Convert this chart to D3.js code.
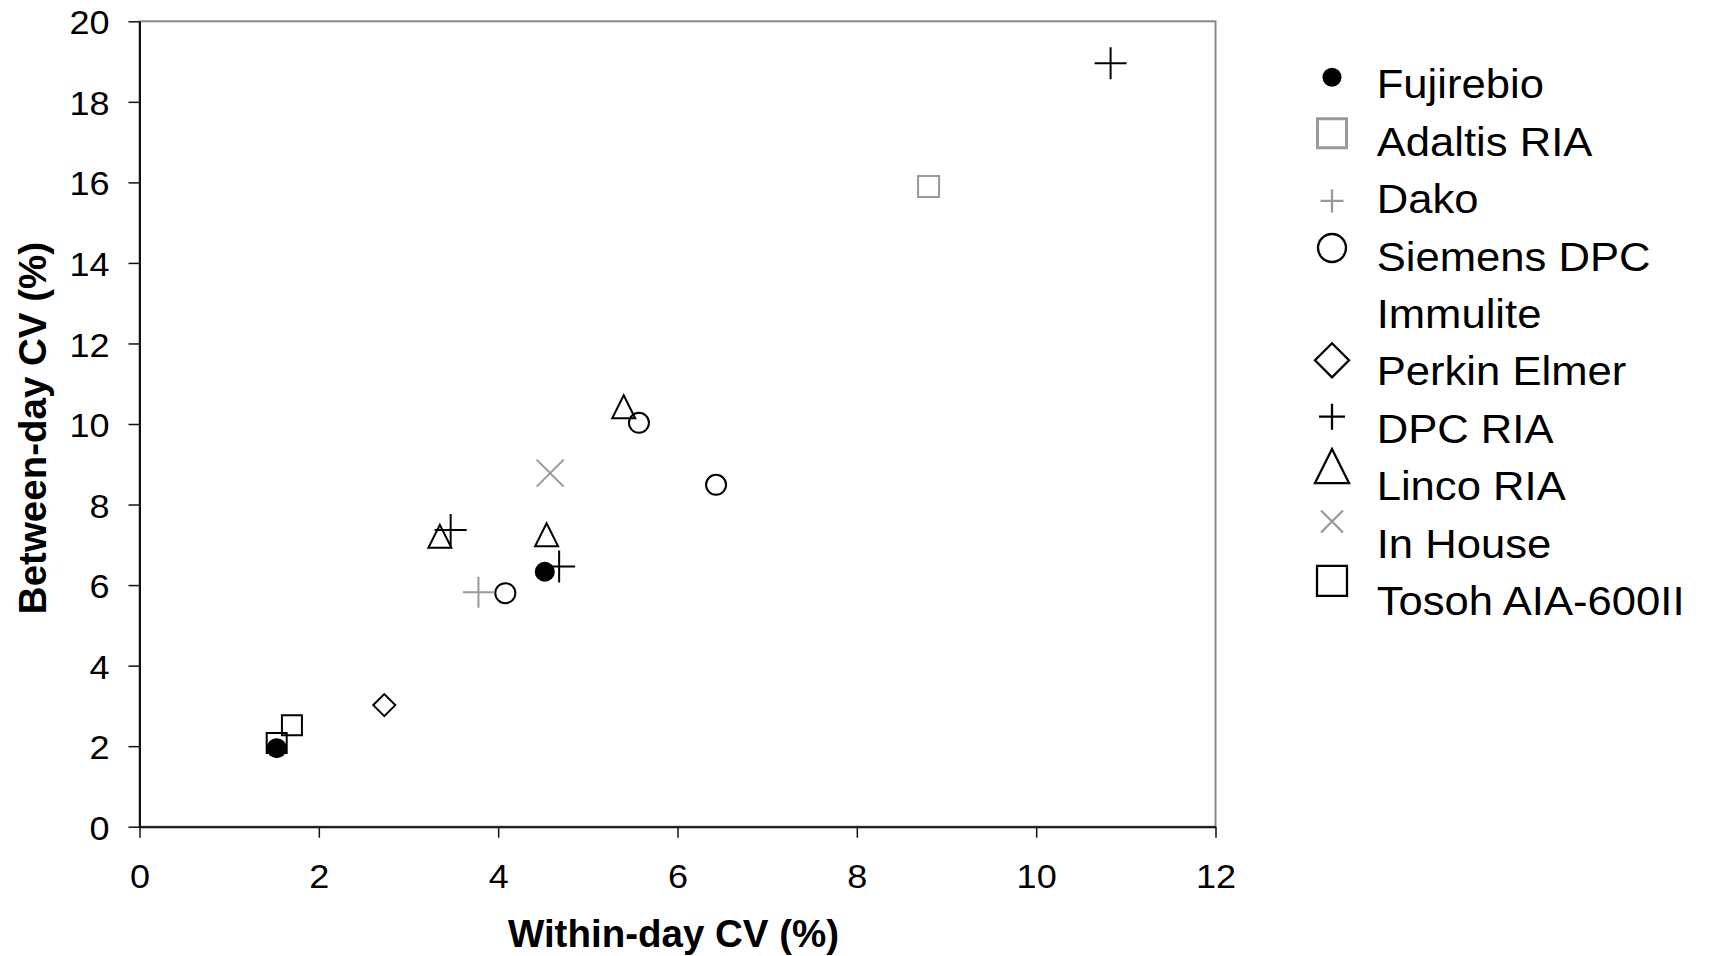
<!DOCTYPE html>
<html>
<head>
<meta charset="utf-8">
<script src="https://cdn.jsdelivr.net/npm/d3@7"></script>
<style>
  html, body { margin: 0; padding: 0; background: #fff; }
  svg { display: block; }
  text { font-family: "Liberation Sans", Arial, sans-serif; fill: #000; }
</style>
</head>
<body>
<svg id="chart" width="1710" height="956"></svg>
<script>
// Assay precision: within-day vs between-day coefficient of variation (%)
const seriesNames = ["Fujirebio", "Adaltis RIA", "Dako", "Siemens DPC Immulite",
  "Perkin Elmer", "DPC RIA", "Linco RIA", "In House", "Tosoh AIA-600II"];

// [within-day CV, between-day CV] per measurement
const fujirebio = [[1.53, 1.95], [4.52, 6.33]];
const adaltisRia = [[8.80, 15.90]];
const dako = [[3.78, 5.82]];
const siemensDpcImmulite = [[4.08, 5.80], [5.57, 10.03], [6.43, 8.49]];
const perkinElmer = [[2.73, 3.02]];
const dpcRia = [[3.47, 7.37], [4.68, 6.46], [10.83, 18.96]];
const lincoRia = [[3.35, 7.21], [4.54, 7.25], [5.40, 10.43]];
const inHouse = [[4.58, 8.78]];
const tosohAia600II = [[1.53, 2.08], [1.70, 2.52]];

const seriesValues = [fujirebio, adaltisRia, dako, siemensDpcImmulite,
  perkinElmer, dpcRia, lincoRia, inHouse, tosohAia600II];

const xTicks = [0, 2, 4, 6, 8, 10, 12];
const yTicks = [0, 2, 4, 6, 8, 10, 12, 14, 16, 18, 20];

// Marker appearance per series
const BLACK = "#000", GREY = "#999";
const seriesStyle = [
  { shape: "dot",      color: BLACK, plot: 20, legend: 19 },
  { shape: "square",   color: GREY,  plot: 21, legend: 29 },
  { shape: "plus",     color: GREY,  plot: 31, legend: 23 },
  { shape: "circle",   color: BLACK, plot: 20, legend: 28 },
  { shape: "diamond",  color: BLACK, plot: 22, legend: 34 },
  { shape: "plus",     color: BLACK, plot: 32, legend: 26 },
  { shape: "triangle", color: BLACK, plot: 23, legend: 34 },
  { shape: "cross",    color: GREY,  plot: 27, legend: 22 },
  { shape: "square",   color: BLACK, plot: 20, legend: 30 }
];
// Draw order (later on top)
const drawOrder = [8, 0, 1, 2, 6, 5, 3, 4, 7];

function markerPath(shape, s) {
  const h = s / 2;
  switch (shape) {
    case "square":   return `M${-h},${-h}H${h}V${h}H${-h}Z`;
    case "diamond":  return `M0,${-h}L${h},0L0,${h}L${-h},0Z`;
    case "triangle": return `M0,${-h}L${h},${h}L${-h},${h}Z`;
    case "plus":     return `M${-h},0H${h}M0,${-h}V${h}`;
    case "cross":    return `M${-h},${-h}L${h},${h}M${h},${-h}L${-h},${h}`;
    default:         return `M${h},0A${h},${h} 0 1,1 ${-h},0A${h},${h} 0 1,1 ${h},0Z`;
  }
}

function drawMarker(g, st, size, sw) {
  g.append("path")
    .attr("d", markerPath(st.shape, size))
    .attr("fill", st.shape === "dot" ? st.color : "none")
    .attr("stroke", st.color)
    .attr("stroke-width", st.shape === "dot" ? 0 : sw)
    .attr("stroke-linejoin", "miter");
}

// Widen text horizontally to the face used in the chart
function widen(sel, k) {
  sel.each(function () {
    const len = this.getComputedTextLength();
    d3.select(this).attr("textLength", len * k).attr("lengthAdjust", "spacingAndGlyphs");
  });
}

const svg = d3.select("#chart");
const plot = { left: 139.5, top: 21.3, right: 1215.5, bottom: 826.7 };

const x = d3.scaleLinear().domain([0, 12]).range([plot.left, plot.right]);
const y = d3.scaleLinear().domain([0, 20]).range([plot.bottom, plot.top]);

// Plot area frame
svg.append("rect")
  .attr("x", plot.left).attr("y", plot.top)
  .attr("width", plot.right - plot.left).attr("height", plot.bottom - plot.top)
  .attr("fill", "#fff").attr("stroke", "#888").attr("stroke-width", 2);

// Axes
const yAxis = svg.append("g")
  .attr("transform", `translate(${plot.left},0)`)
  .call(d3.axisLeft(y).tickValues(yTicks).tickSize(11).tickPadding(19).tickSizeOuter(0));
const xAxis = svg.append("g")
  .attr("transform", `translate(0,${plot.bottom})`)
  .call(d3.axisBottom(x).tickValues(xTicks).tickSize(11).tickPadding(26).tickSizeOuter(0));

[xAxis, yAxis].forEach(a => {
  a.select(".domain").attr("stroke", "#111").attr("stroke-width", 2);
  a.selectAll(".tick line").attr("stroke", "#111").attr("stroke-width", 1.5);
  a.selectAll(".tick text")
    .style("font-family", '"Liberation Sans", Arial, sans-serif')
    .style("font-size", "34px").attr("fill", "#000");
});
yAxis.selectAll(".tick text").attr("dy", "0.37em");
widen(xAxis.selectAll(".tick text"), 1.06);
widen(yAxis.selectAll(".tick text"), 1.06);

// Axis titles
svg.append("text")
  .attr("x", (plot.left + plot.right) / 2 - 4).attr("y", 947)
  .attr("text-anchor", "middle")
  .style("font-size", "38.5px").style("font-weight", "bold")
  .text("Within-day CV (%)");

svg.append("text")
  .attr("transform", `translate(46,428) rotate(-90)`)
  .attr("text-anchor", "middle")
  .style("font-size", "38.5px").style("font-weight", "bold")
  .text("Between-day CV (%)");

// Data points
const pts = svg.append("g");
drawOrder.forEach(i => {
  const st = seriesStyle[i];
  seriesValues[i].forEach(d => {
    const g = pts.append("g").attr("transform", `translate(${x(d[0])},${y(d[1])})`);
    drawMarker(g, st, st.plot, 2);
  });
});

// Legend
const legendLines = [["Fujirebio"], ["Adaltis RIA"], ["Dako"], ["Siemens DPC", "Immulite"],
  ["Perkin Elmer"], ["DPC RIA"], ["Linco RIA"], ["In House"], ["Tosoh AIA-600II"]];
const legendMarkerDy = [-21, -22.4, -12.2, -22.5, -25, -26, -34, -36, -34];
const lg = { markerX: 1332, textX: 1376.7, firstBaseline: 98.3, step: 57.4 };
const legend = svg.append("g");
let row = 0;
legendLines.forEach((lines, i) => {
  const base = lg.firstBaseline + row * lg.step;
  const m = legend.append("g").attr("transform", `translate(${lg.markerX},${base + legendMarkerDy[i]})`);
  drawMarker(m, seriesStyle[i], seriesStyle[i].legend, i === 1 ? 3 : 2.3);
  lines.forEach((t, j) => {
    const tx = legend.append("text")
      .attr("x", lg.textX).attr("y", base + j * lg.step)
      .style("font-size", "40px")
      .text(t);
    widen(tx, 1.09);
  });
  row += lines.length;
});
</script>
</body>
</html>
